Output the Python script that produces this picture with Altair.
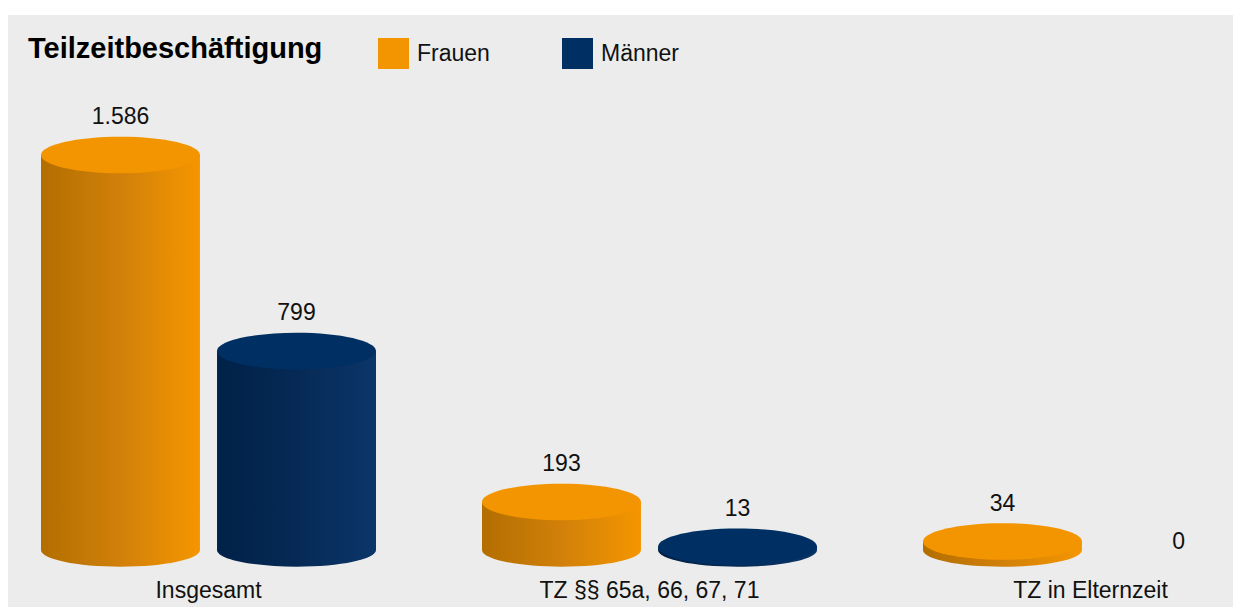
import altair as alt
import pandas as pd

# ---- data ----
categories = ["Insgesamt", "TZ §§ 65a, 66, 67, 71", "TZ in Elternzeit"]
genders = ["Frauen", "Männer"]
frauen = [1586, 193, 34]
maenner = [799, 13, 0]
chart_title = "Teilzeitbeschäftigung"

rows = []
for c, f, m in zip(categories, frauen, maenner):
    rows.append({"cat": c, "gender": "Frauen", "value": f})
    rows.append({"cat": c, "gender": "Männer", "value": m})
df = pd.DataFrame(rows)
df["label"] = df["value"].map(lambda v: f"{v:,}".replace(",", "."))
df["base"] = 0

# ---- styles ----
FONT = "Liberation Sans"
BAR_W = 159
ORANGE = "#F39500"
NAVY = "#003063"
BG = "#EBECEB"
TOP_ELLIPSE = "M-1,0 A1,0.23 0 1,1 1,0 A1,0.23 0 1,1 -1,0 Z"
BOTTOM_HALF = "M-1,0 A1,0.21 0 0,0 1,0 Z"


def grad(c0, c1, c2):
    return alt.Gradient(
        gradient="linear", x1=0, x2=1, y1=0, y2=0,
        stops=[alt.GradientStop(color=c0, offset=0),
               alt.GradientStop(color=c1, offset=0.5),
               alt.GradientStop(color=c2, offset=1)])


grad_f = grad("#B36E00", "#D1800A", "#F59600")
grad_m = grad("#002148", "#062A55", "#0B3669")

x_enc = alt.X(
    "cat:N", sort=categories,
    scale=alt.Scale(domain=categories, range=[33, 1250],
                    paddingInner=106 / 441, paddingOuter=0),
    axis=alt.Axis(title=None, labelAngle=0, labelFontSize=23, labelFont=FONT,
                  labelColor="#111111", domain=False, ticks=False, tickSize=0,
                  labelPadding=0, labelBaseline="alphabetic", offset=-10,
                  grid=False, labelLimit=400))
xo_enc = alt.XOffset("gender:N", sort=genders,
                     scale=alt.Scale(domain=genders, paddingInner=0.097, paddingOuter=0))
y_scale = alt.Scale(domain=[0, max(frauen + maenner)], range=[535, 140], nice=False, zero=True)

base = alt.Chart(df)


def body(gender, g):
    return base.transform_filter(
        f"datum.value > 0 && datum.gender == '{gender}'"
    ).mark_bar(fill=g, strokeWidth=0).encode(
        x=x_enc, xOffset=xo_enc,
        y=alt.Y("value:Q", scale=y_scale, axis=None),
        y2="base:Q")


def bottom(gender, g):
    return base.transform_filter(
        f"datum.value > 0 && datum.gender == '{gender}'"
    ).mark_point(shape=BOTTOM_HALF, filled=True, fill=g, size=BAR_W ** 2,
                 opacity=1, strokeWidth=0).encode(
        x=x_enc, xOffset=xo_enc,
        y=alt.Y("base:Q", scale=y_scale, axis=None))


tops = base.transform_filter("datum.value > 0").mark_point(
    shape=TOP_ELLIPSE, filled=True, size=BAR_W ** 2, opacity=1, strokeWidth=0
).encode(
    x=x_enc, xOffset=xo_enc,
    y=alt.Y("value:Q", scale=y_scale, axis=None),
    color=alt.Color(
        "gender:N",
        scale=alt.Scale(domain=genders, range=[ORANGE, NAVY]),
        legend=alt.Legend(orient="none", legendX=370, legendY=23,
                          direction="horizontal", title=None,
                          symbolType="square", symbolSize=961,
                          symbolStrokeWidth=0, symbolOpacity=1,
                          labelFontSize=23, labelFont=FONT, labelColor="#111111",
                          labelOffset=8, columnPadding=72, padding=0,
                          labelLimit=200)))

labels = base.transform_filter("datum.value > 0").mark_text(
    dy=-31, baseline="alphabetic", fontSize=23, font=FONT, color="#111111"
).encode(x=x_enc, xOffset=xo_enc,
         y=alt.Y("value:Q", scale=y_scale, axis=None), text="label:N")

zero_labels = base.transform_filter("datum.value == 0").mark_text(
    dy=-1, baseline="alphabetic", fontSize=23, font=FONT, color="#111111"
).encode(x=x_enc, xOffset=xo_enc,
         y=alt.Y("value:Q", scale=y_scale, axis=None), text="label:N")

title_layer = alt.Chart(pd.DataFrame({"t": [chart_title]})).mark_text(
    align="left", baseline="alphabetic", fontSize=29, fontWeight="bold",
    font=FONT, color="#000000"
).encode(x=alt.value(20), y=alt.value(43), text="t:N")

chart = alt.layer(
    body("Frauen", grad_f), body("Männer", grad_m),
    bottom("Frauen", grad_f), bottom("Männer", grad_m),
    tops, labels, zero_labels, title_layer
).properties(
    width=1225, height=592,
    padding={"left": 0, "top": 7, "right": 0, "bottom": 0},
    autosize=alt.AutoSizeParams(type="none"),
    background="white",
).configure_view(fill=BG, strokeWidth=0)

chart.save("out.html", embed_options={"renderer": "svg", "actions": False})
